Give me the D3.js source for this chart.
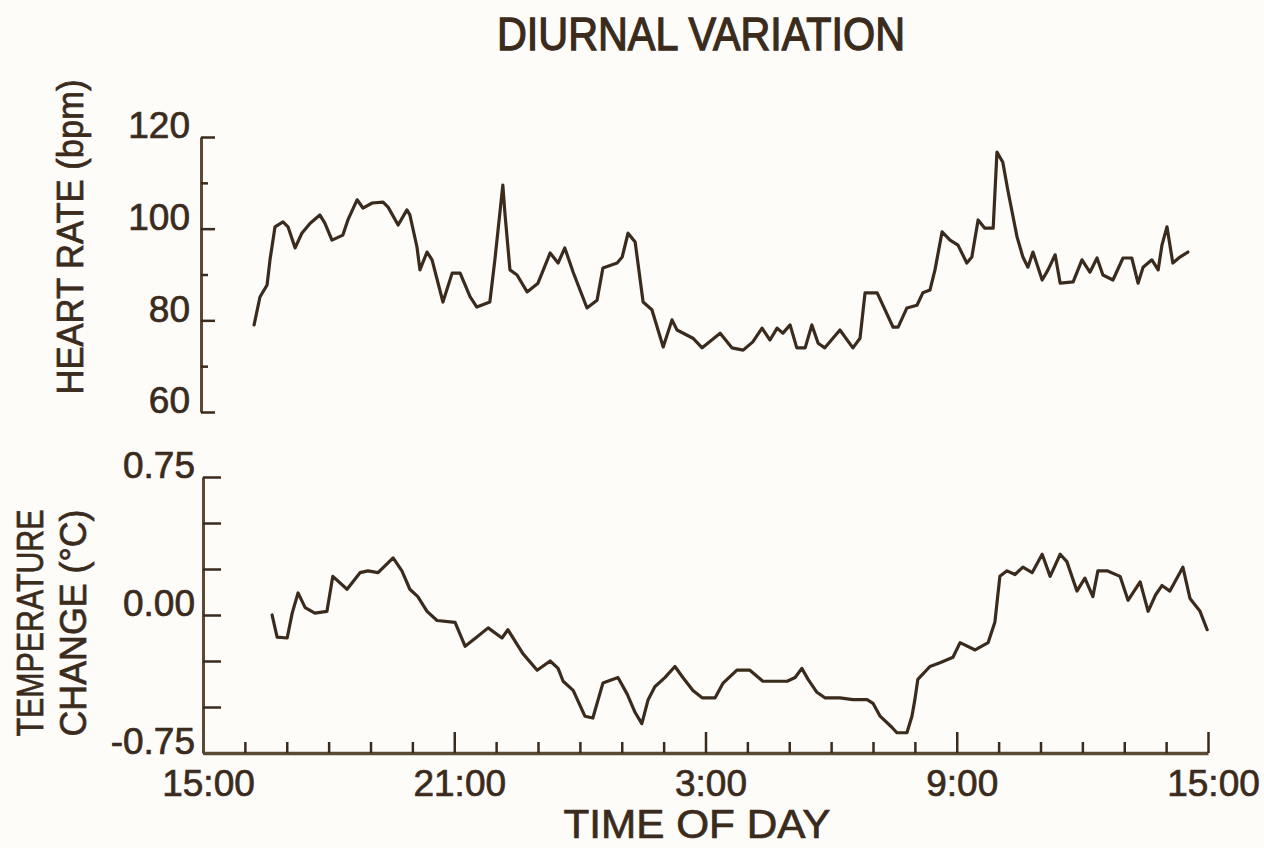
<!DOCTYPE html>
<html>
<head>
<meta charset="utf-8">
<script src="https://cdn.jsdelivr.net/npm/d3@7"></script>
<style>
  html, body { margin: 0; padding: 0; background: #fdfcf9; }
  svg { display: block; }
  text { font-family: "Liberation Sans", Arial, sans-serif; fill: #3a2b1d; stroke: #3a2b1d; stroke-width: 0.7px; }
</style>
</head>
<body>
<svg id="chart" width="1264" height="848"></svg>
<script>
// Time is stored as hours elapsed since 15:00 on the first day.
const hrHours = [1.22, 1.36, 1.53, 1.60, 1.72, 1.91, 2.03, 2.20, 2.36, 2.56, 2.79, 2.91, 3.08, 3.34, 3.46,
  3.68, 3.82, 4.04, 4.30, 4.42, 4.66, 4.87, 4.94, 5.11, 5.18, 5.35, 5.47, 5.73, 5.95, 6.14, 6.38, 6.54,
  6.85, 6.97, 7.16, 7.21, 7.33, 7.50, 7.74, 8.00, 8.29, 8.48, 8.64, 8.84, 9.17, 9.41, 9.55, 9.89, 10.01,
  10.15, 10.32, 10.51, 10.72, 10.99, 11.20, 11.32, 11.70, 11.92, 12.35, 12.63, 12.90, 13.13, 13.35, 13.54,
  13.71, 13.85, 14.02, 14.18, 14.38, 14.54, 14.69, 14.85, 15.21, 15.52, 15.69, 15.81, 16.10, 16.48, 16.60,
  16.81, 17.05, 17.19, 17.36, 17.48, 17.65, 17.84, 18.03, 18.24, 18.36, 18.51, 18.67, 18.87, 18.96, 19.10,
  19.22, 19.44, 19.58, 19.70, 19.82, 20.04, 20.18, 20.35, 20.47, 20.78, 20.99, 21.18, 21.35, 21.49, 21.73,
  21.97, 22.18, 22.33, 22.45, 22.66, 22.81, 22.90, 23.02, 23.16, 23.33, 23.52];
const hrBpm = [79.0, 85.1, 87.7, 93.2, 100.4, 101.5, 100.4, 95.8, 99.0, 101.2, 103.0, 101.2, 97.5, 98.6, 101.9,
  106.3, 104.5, 105.6, 105.8, 104.7, 100.8, 104.1, 103.0, 96.0, 91.0, 94.9, 93.2, 84.0, 90.3, 90.3, 85.1, 82.9,
  84.0, 93.2, 109.5, 103.4, 91.0, 89.9, 86.2, 88.1, 94.7, 92.5, 95.8, 90.5, 82.7, 84.4, 91.4, 92.5, 93.8,
  99.0, 97.1, 84.0, 82.3, 74.2, 80.1, 77.9, 76.1, 74.0, 77.2, 74.0, 73.5, 75.3, 78.3, 75.7,
  78.3, 77.2, 79.0, 74.0, 74.0, 79.0, 75.0, 74.0, 77.9, 74.0, 76.1, 86.0, 86.0, 78.5, 78.5,
  82.7, 83.3, 86.0, 86.6, 91.0, 99.3, 97.5, 96.4, 92.5, 93.8, 101.9, 100.1, 100.1, 116.7, 114.5,
  108.4, 98.2, 93.8, 91.6, 94.9, 88.8, 91.0, 94.3, 88.1, 88.4, 93.2, 90.5, 93.6, 89.9, 88.8,
  93.6, 93.6, 88.1, 91.6, 93.2, 91.0, 96.4, 100.4, 92.5, 93.8, 94.9];

const tempHours = [1.65, 1.77, 2.01, 2.13, 2.27, 2.44, 2.67, 2.96, 3.10, 3.44, 3.75, 3.94, 4.18, 4.54, 4.75,
  4.94, 5.13, 5.35, 5.59, 6.02, 6.26, 6.54, 6.81, 7.14, 7.28, 7.64, 7.98, 8.29, 8.48, 8.60, 8.84, 9.12,
  9.31, 9.55, 9.91, 10.13, 10.32, 10.48, 10.63, 10.79, 11.03, 11.27, 11.46, 11.70, 11.92, 12.23, 12.42,
  12.75, 13.06, 13.37, 13.95, 14.14, 14.30, 14.45, 14.66, 14.85, 15.21, 15.52, 15.86, 16.00, 16.17, 16.45,
  16.57, 16.81, 16.93, 17.00, 17.07, 17.36, 17.60, 17.91, 18.08, 18.44, 18.75, 18.91, 19.03, 19.20, 19.39,
  19.58, 19.80, 20.04, 20.23, 20.47, 20.63, 20.87, 21.06, 21.25, 21.37, 21.59, 21.90, 22.09, 22.38, 22.57,
  22.75, 22.90, 23.09, 23.40, 23.57, 23.81, 23.98];
const tempDelta = [0.00, -0.12, -0.125, 0.01, 0.12, 0.04, 0.01, 0.02, 0.21, 0.14, 0.23, 0.24, 0.23, 0.31, 0.24,
  0.14, 0.10, 0.02, -0.03, -0.04, -0.17, -0.12, -0.07, -0.125, -0.08, -0.21, -0.30, -0.25, -0.29, -0.36, -0.41, -0.55,
  -0.56, -0.37, -0.34, -0.43, -0.53, -0.59, -0.46, -0.39, -0.34, -0.28, -0.34, -0.41, -0.45, -0.45, -0.37,
  -0.30, -0.30, -0.36, -0.36, -0.34, -0.29, -0.35, -0.42, -0.45, -0.45, -0.46, -0.46, -0.48, -0.55, -0.61,
  -0.64, -0.64, -0.55, -0.46, -0.35, -0.28, -0.26, -0.23, -0.15, -0.19, -0.15, -0.04, 0.21, 0.24, 0.22,
  0.26, 0.23, 0.33, 0.21, 0.33, 0.29, 0.13, 0.20, 0.10, 0.24, 0.24, 0.21, 0.08, 0.18, 0.02,
  0.11, 0.16, 0.13, 0.26, 0.09, 0.02, -0.08];

const hrMajorTicks = [60, 80, 100, 120];
const hrMinorTicks = [70, 90, 110];
const tempTicks = [-0.75, -0.5, -0.25, 0, 0.25, 0.5, 0.75];
const tempLabelTicks = [-0.75, 0, 0.75];
const hourMinorTicks = d3.range(1, 24).filter(h => h % 6 !== 0);
const hourMajorTicks = [6, 12, 18, 24];
const hourLabelTicks = [0, 6, 12, 18, 24];
const hourLabels = ["15:00", "21:00", "3:00", "9:00", "15:00"];

const INK = "#3a2b1d";
const AXIS = "#5b4835";

const svg = d3.select("#chart");

const x = d3.scaleLinear().domain([0, 24]).range([203, 1208]);
const yHr = d3.scaleLinear().domain([60, 120]).range([412, 137]);
const yTemp = d3.scaleLinear().domain([-0.75, 0.75]).range([753, 477]);

function styleAxis(g, width) {
  g.selectAll("path.domain").attr("stroke", AXIS).attr("stroke-width", width);
  g.selectAll(".tick line").attr("stroke", INK).attr("stroke-width", 2.5);
}
function styleLabels(g, size) {
  g.selectAll(".tick text")
    .attr("fill", INK)
    .style("font-family", '"Liberation Sans", Arial, sans-serif')
    .style("font-size", size + "px");
}

// Title
svg.append("text")
  .attr("x", 701).attr("y", 50)
  .attr("text-anchor", "middle")
  .attr("textLength", 408).attr("lengthAdjust", "spacingAndGlyphs")
  .style("font-size", "46px")
  .style("stroke-width", "1.3px")
  .text("DIURNAL VARIATION");

// ---- Heart rate panel ----
const gHr = svg.append("g").attr("transform", "translate(201,0)");
gHr.append("g")
  .call(d3.axisRight(yHr).tickValues(hrMajorTicks).tickSize(14).tickSizeOuter(0).tickFormat(""))
  .call(g => styleAxis(g, 3));
gHr.append("g")
  .call(d3.axisRight(yHr).tickValues(hrMinorTicks).tickSize(7).tickFormat(""))
  .call(g => g.select(".domain").remove())
  .call(g => styleAxis(g, 3));
gHr.append("g")
  .call(d3.axisLeft(yHr).tickValues(hrMajorTicks).tickSize(0).tickPadding(11))
  .call(g => g.select(".domain").remove())
  .call(g => styleLabels(g, 37))
  .call(g => g.selectAll(".tick text").attr("dy", "0.02em"));

svg.append("text")
  .attr("transform", "translate(83,237) rotate(-90)")
  .attr("text-anchor", "middle")
  .attr("textLength", 315).attr("lengthAdjust", "spacingAndGlyphs")
  .style("font-size", "36px")
  .text("HEART RATE (bpm)");

const hrLine = d3.line().x(d => x(d[0])).y(d => yHr(d[1]));
svg.append("path")
  .datum(d3.zip(hrHours, hrBpm))
  .attr("d", hrLine)
  .attr("fill", "none")
  .attr("stroke", INK)
  .attr("stroke-width", 3.2)
  .attr("stroke-linejoin", "round")
  .attr("stroke-linecap", "round");

// ---- Temperature panel ----
const gT = svg.append("g").attr("transform", "translate(203,0)");
gT.append("g")
  .call(d3.axisRight(yTemp).tickValues(tempTicks).tickSize(18).tickSizeOuter(0).tickFormat(""))
  .call(g => styleAxis(g, 3));
gT.append("g")
  .call(d3.axisLeft(yTemp).tickValues(tempLabelTicks).tickSize(0).tickPadding(8).tickFormat(d => d.toFixed(2)))
  .call(g => g.select(".domain").remove())
  .call(g => styleLabels(g, 37))
  .call(g => g.selectAll(".tick text").attr("dy", "0.02em"));

svg.append("text")
  .attr("transform", "translate(43,623) rotate(-90)")
  .attr("text-anchor", "middle")
  .attr("textLength", 227).attr("lengthAdjust", "spacingAndGlyphs")
  .style("font-size", "36px")
  .text("TEMPERATURE");
svg.append("text")
  .attr("transform", "translate(86,623) rotate(-90)")
  .attr("text-anchor", "middle")
  .attr("textLength", 227).attr("lengthAdjust", "spacingAndGlyphs")
  .style("font-size", "36px")
  .text("CHANGE (°C)");

// Time axis along the bottom
const gX = svg.append("g").attr("transform", "translate(0,753)");
gX.append("g")
  .call(d3.axisTop(x).tickValues(hourMinorTicks).tickSize(11).tickSizeOuter(0).tickFormat(""))
  .call(g => styleAxis(g, 3.5));
gX.append("g")
  .call(d3.axisTop(x).tickValues(hourMajorTicks).tickSize(21).tickFormat(""))
  .call(g => g.select(".domain").remove())
  .call(g => styleAxis(g, 3));
gX.append("g")
  .call(d3.axisBottom(x).tickValues(hourLabelTicks).tickSize(0).tickPadding(17)
    .tickFormat((d, i) => hourLabels[i]))
  .call(g => g.select(".domain").remove())
  .call(g => styleLabels(g, 37))
  .call(g => g.selectAll(".tick text").attr("dx", "5"));

svg.append("text")
  .attr("x", 697).attr("y", 838)
  .attr("text-anchor", "middle")
  .attr("textLength", 267).attr("lengthAdjust", "spacingAndGlyphs")
  .style("font-size", "40px")
  .text("TIME OF DAY");

const tempLine = d3.line().x(d => x(d[0])).y(d => yTemp(d[1]));
svg.append("path")
  .datum(d3.zip(tempHours, tempDelta))
  .attr("d", tempLine)
  .attr("fill", "none")
  .attr("stroke", INK)
  .attr("stroke-width", 3.2)
  .attr("stroke-linejoin", "round")
  .attr("stroke-linecap", "round");
</script>
</body>
</html>
